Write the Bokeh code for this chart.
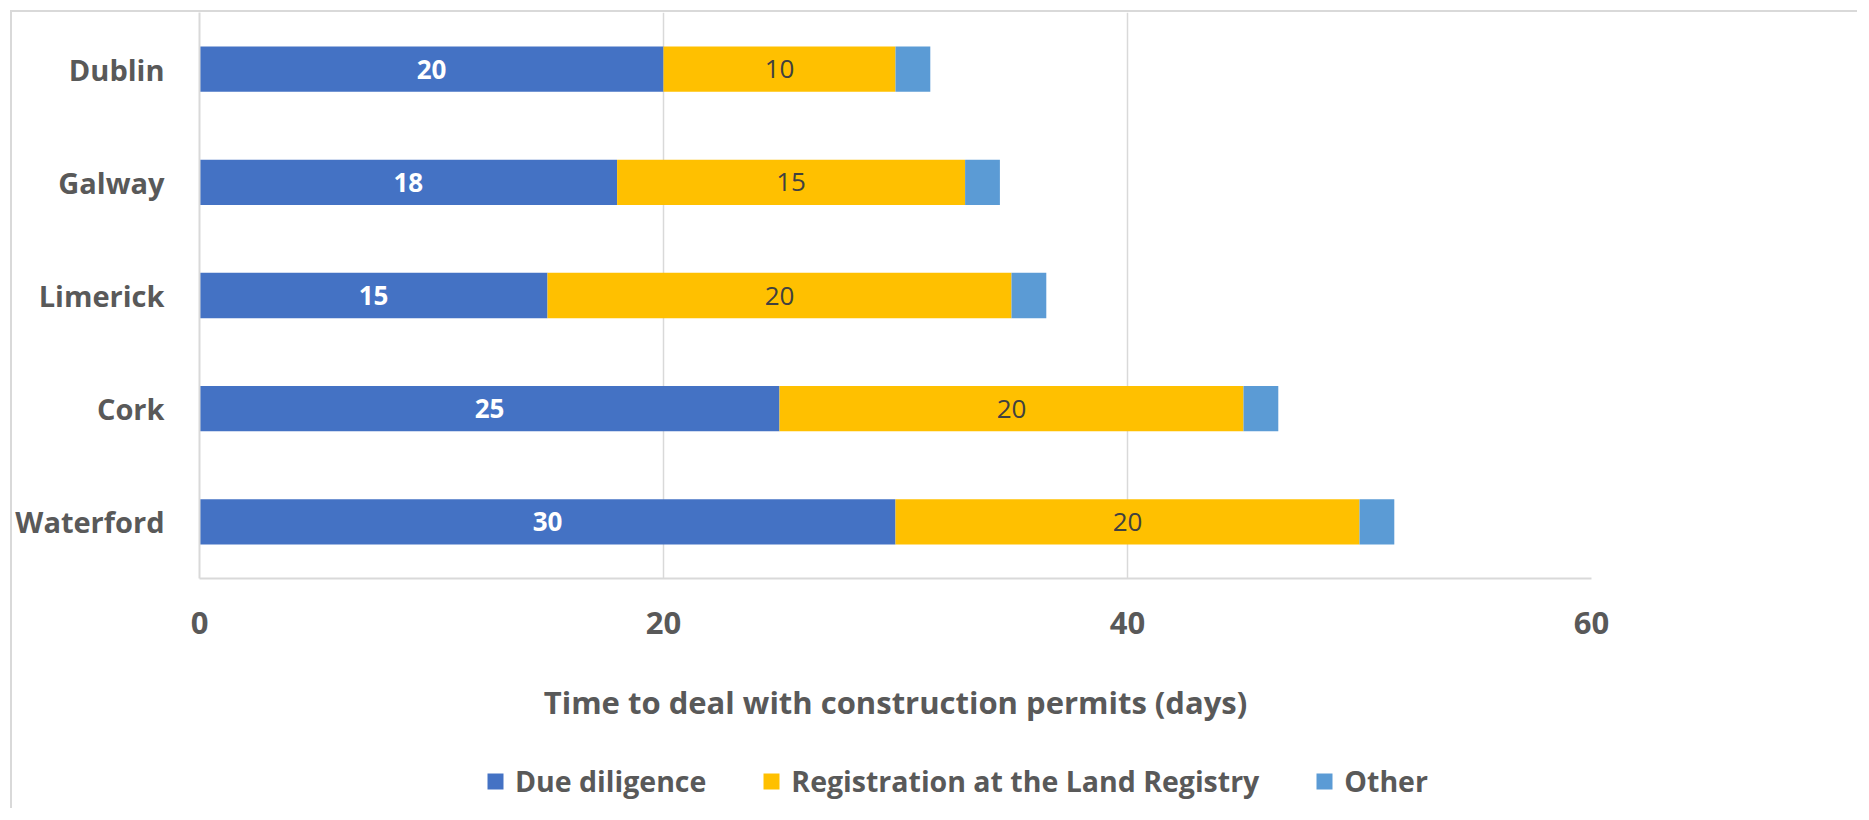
from bokeh.plotting import figure
from bokeh.layouts import column
from bokeh.models import ColumnDataSource, FactorRange, Range1d, FixedTicker, Legend, LegendItem, LabelSet
from bokeh.embed import file_html
from bokeh.resources import INLINE
from bokeh.core.properties import value

cities = ["Dublin", "Galway", "Limerick", "Cork", "Waterford"]
due_diligence = [20, 18, 15, 25, 30]
registration = [10, 15, 20, 20, 20]
other = [1.5, 1.5, 1.5, 1.5, 1.5]
series_names = ["Due diligence", "Registration at the Land Registry", "Other"]
colors = ["#4472C4", "#FFC000", "#5B9BD5"]
x_ticks = [0, 20, 40, 60]
x_title = "Time to deal with construction permits (days)"

FONT = "Open Sans"
GREY = "#595959"
W = 1845

factors = list(reversed(cities))
src = ColumnDataSource(dict(
    city=cities,
    dd=due_diligence,
    reg=registration,
    oth=other,
    dd_mid=[d / 2 for d in due_diligence],
    reg_mid=[d + r / 2 for d, r in zip(due_diligence, registration)],
    dd_txt=[str(v) for v in due_diligence],
    reg_txt=[str(v) for v in registration],
))

p = figure(y_range=FactorRange(factors=factors, range_padding=0),
           x_range=Range1d(0, 60),
           width=W, height=726, output_backend="svg", toolbar_location=None,
           min_border_left=0, min_border_top=0, min_border_right=266,
           min_border_bottom=160)
p.outline_line_color = None

rs = p.hbar_stack(["dd", "reg", "oth"], y="city", height=0.4, color=colors,
                  line_color=None, source=src)

lbl_dd = LabelSet(x="dd_mid", y="city", text="dd_txt", source=src,
                  text_align="center", text_baseline="middle",
                  text_color="white", text_font=value(FONT), text_font_style="bold",
                  text_font_size="26px")
lbl_reg = LabelSet(x="reg_mid", y="city", text="reg_txt", source=src,
                   text_align="center", text_baseline="middle",
                   text_color="#404040", text_font=value(FONT),
                   text_font_size="26px")
p.add_layout(lbl_dd)
p.add_layout(lbl_reg)

p.xaxis.ticker = FixedTicker(ticks=x_ticks)
p.xaxis.axis_label = x_title
for ax in (p.xaxis, p.yaxis):
    ax.major_tick_line_color = None
    ax.minor_tick_line_color = None
    ax.axis_line_color = "#D9D9D9"
    ax.axis_line_width = 2
    ax.major_label_text_color = GREY
    ax.major_label_text_font = FONT
    ax.major_label_text_font_style = "bold"
p.xaxis.major_label_text_font_size = "31px"
p.yaxis.major_label_text_font_size = "29px"
p.xaxis.major_label_standoff = 27
p.yaxis.major_label_standoff = 29
p.xaxis.axis_label_text_font = FONT
p.xaxis.axis_label_text_font_style = "bold"
p.xaxis.axis_label_text_font_size = "31px"
p.xaxis.axis_label_text_color = GREY
p.xaxis.axis_label_standoff = 44

p.xgrid.grid_line_color = "#D9D9D9"
p.xgrid.grid_line_width = 1.5
p.ygrid.grid_line_color = None

# legend strip below the chart (its frame is aligned with the chart's frame)
lg = figure(width=W, height=70, output_backend="svg", toolbar_location=None,
            x_range=Range1d(0, 1), y_range=Range1d(0, 1),
            min_border=0, outline_line_color=None)
lg.axis.visible = False
lg.grid.visible = False
swatches = []
for c in colors:
    r = lg.hbar(y=[0.5], right=[1], height=0.4, color=c, line_color=None)
    r.visible = False
    swatches.append(r)
legend = Legend(items=[LegendItem(label=n, renderers=[r]) for n, r in zip(series_names, swatches)],
                orientation="horizontal", location=(286, 8),
                glyph_width=20, glyph_height=20, label_standoff=10, spacing=55,
                label_text_font=FONT, label_text_font_style="bold",
                label_text_font_size="28.5px", label_text_color=GREY,
                inactive_fill_alpha=0,
                border_line_color=None, background_fill_alpha=0,
                padding=0, margin=0)
lg.add_layout(legend, "center")

layout = column(p, lg, spacing=0)
layout.margin = (10, 0, 0, 10)
layout.styles = {"border-top": "2px solid #D9D9D9", "border-left": "2px solid #D9D9D9"}

open("out.html", "w").write(file_html(layout, INLINE))
